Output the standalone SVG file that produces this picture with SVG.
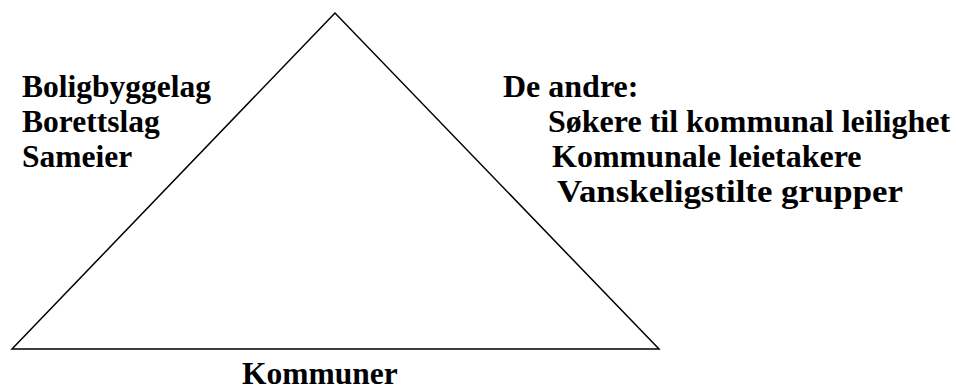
<svg xmlns="http://www.w3.org/2000/svg" width="956" height="392" viewBox="0 0 956 392">
<style>
text { font-family: "Liberation Serif", "Times New Roman", serif; font-weight: bold; font-size: 31.5px; fill: #000; }
.r { font-size: 32px; }
.shape { fill: none; stroke: #000; stroke-width: 1.5; }
</style>
<rect width="956" height="392" fill="#fff"/>
<g id="triangle">
<polygon class="shape" points="335,13 12,349 659,349"/>
</g>
<g id="left-labels">
<text x="22" y="97">Boligbyggelag</text>
<text x="22" y="132">Borettslag</text>
<text x="22" y="167">Sameier</text>
</g>
<g id="right-labels">
<text class="r" x="503" y="97">De andre:</text>
<text class="r" x="548" y="132">Søkere til kommunal leilighet</text>
<text class="r" x="552" y="167">Kommunale leietakere</text>
<text class="r" x="557" y="202" textLength="346" lengthAdjust="spacingAndGlyphs">Vanskeligstilte grupper</text>
</g>
<g id="bottom-label">
<text x="242" y="384">Kommuner</text>
</g>
</svg>
